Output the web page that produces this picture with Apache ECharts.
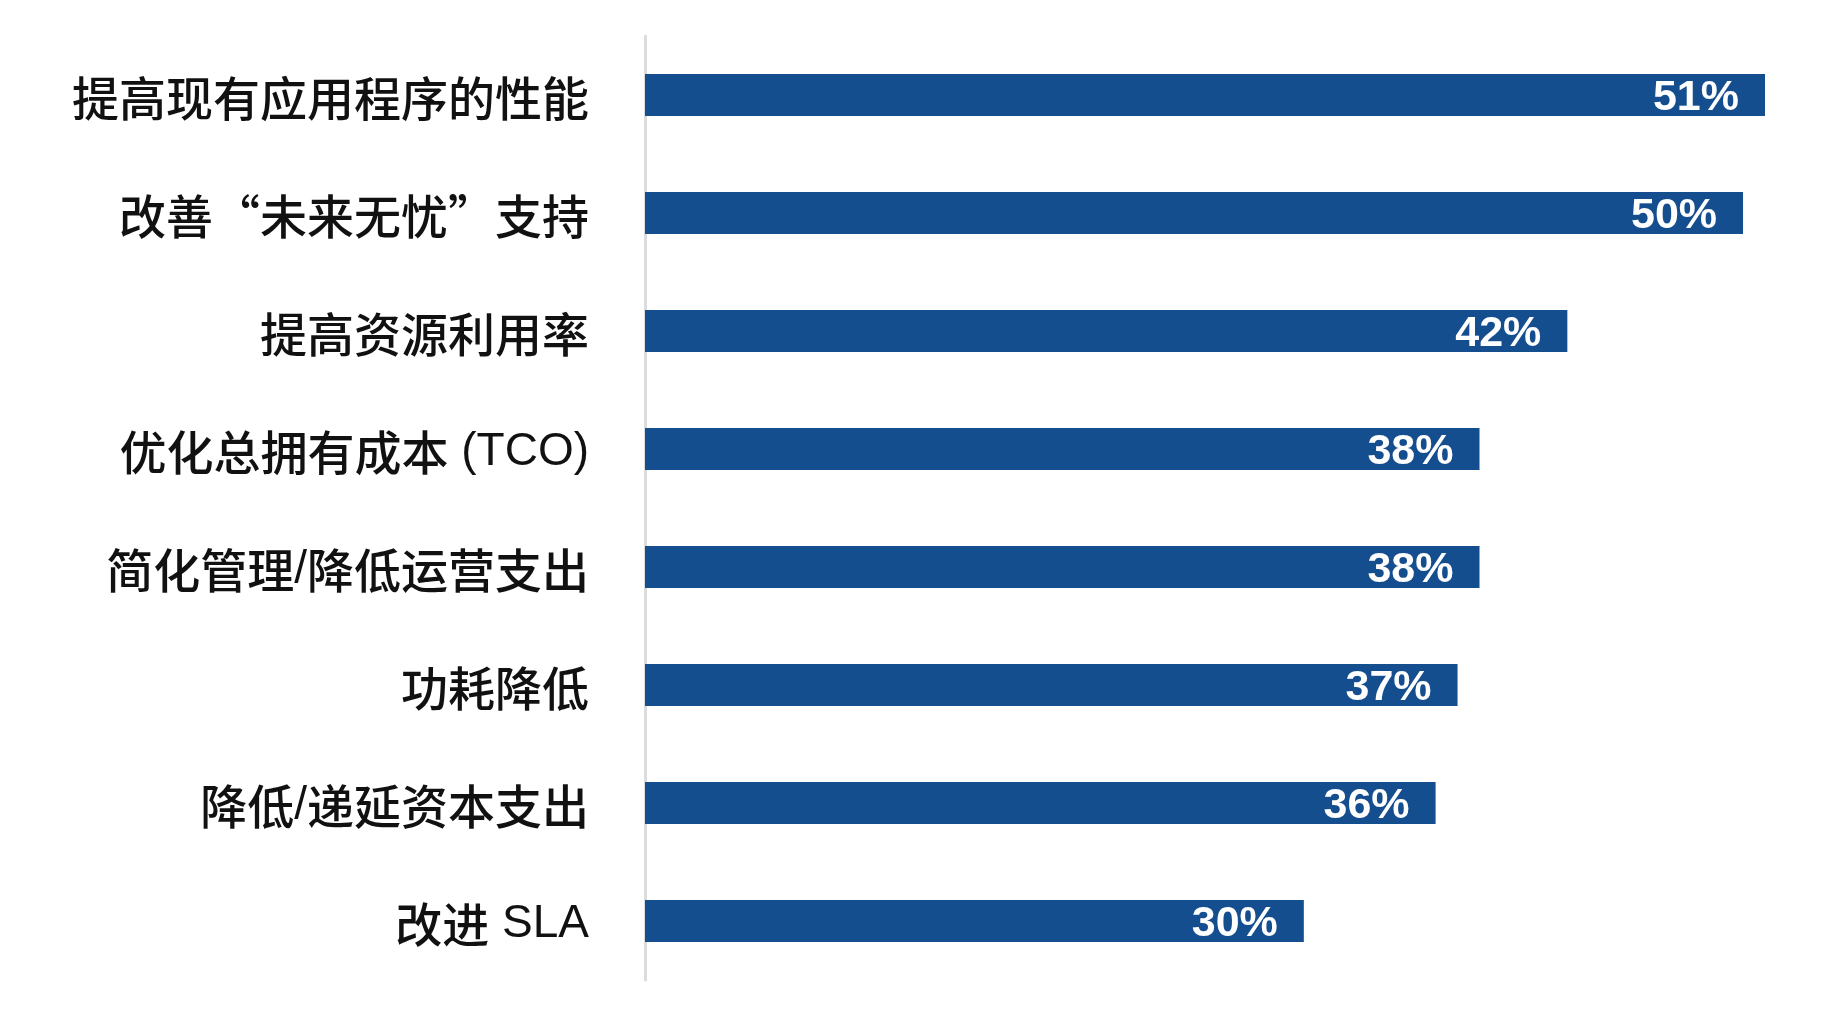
<!DOCTYPE html>
<html>
<head>
<meta charset="utf-8">
<script src="https://cdn.jsdelivr.net/npm/echarts@6/dist/echarts.min.js"></script>
<style>
  html, body { margin: 0; padding: 0; background: #ffffff; }
  #chart { width: 1840px; height: 1010px; }
</style>
</head>
<body>
<div id="chart"></div>
<script>
// categories, top to bottom
const categories = [
  "提高现有应用程序的性能",
  "改善“未来无忧”支持",
  "提高资源利用率",
  "优化总拥有成本 (TCO)",
  "简化管理/降低运营支出",
  "功耗降低",
  "降低/递延资本支出",
  "改进 SLA"
];
// percent values
const values = [51, 50, 42, 38, 38, 37, 36, 30];

// split latin runs so they draw in an Arial-like face
function richLabel(text) {
  return text.replace(/[\x20-\x7e]+|[^\x20-\x7e]+/g, (run) =>
    /^[\x20-\x7e]+$/.test(run) ? "{l|" + run + "}" : "{c|" + run + "}"
  );
}

const chart = echarts.init(document.getElementById("chart"));
chart.setOption({
  animation: false,
  backgroundColor: "#ffffff",
  grid: {
    left: 645,
    right: 75,
    top: 36,
    bottom: 30,
    containLabel: false,
  },
  xAxis: {
    type: "value",
    min: 0,
    max: 51,
    show: false,
  },
  yAxis: {
    type: "category",
    data: categories,
    inverse: true,
    axisTick: { show: false },
    axisLine: {
      show: true,
      lineStyle: { color: "#dcdcdc", width: 3 },
    },
    axisLabel: {
      margin: 56,
      formatter: (v) => richLabel(v),
      rich: {
        c: {
          fontFamily: "Noto Sans CJK SC",
          fontWeight: 500,
          fontSize: 47,
          color: "#111111",
          padding: [6, 0, 0, 0],
        },
        l: {
          fontFamily: "Liberation Sans",
          fontSize: 46,
          color: "#111111",
          padding: [6, 0, 0, 0],
        },
      },
    },
  },
  series: [
    {
      type: "bar",
      data: values,
      barWidth: 42,
      itemStyle: { color: "#154e8e" },
      label: {
        show: true,
        position: "insideRight",
        distance: 26,
        offset: [0, 3],
        formatter: "{c}%",
        color: "#ffffff",
        fontFamily: "Liberation Sans",
        fontWeight: "bold",
        fontSize: 43,
      },
    },
  ],
});
</script>
</body>
</html>
